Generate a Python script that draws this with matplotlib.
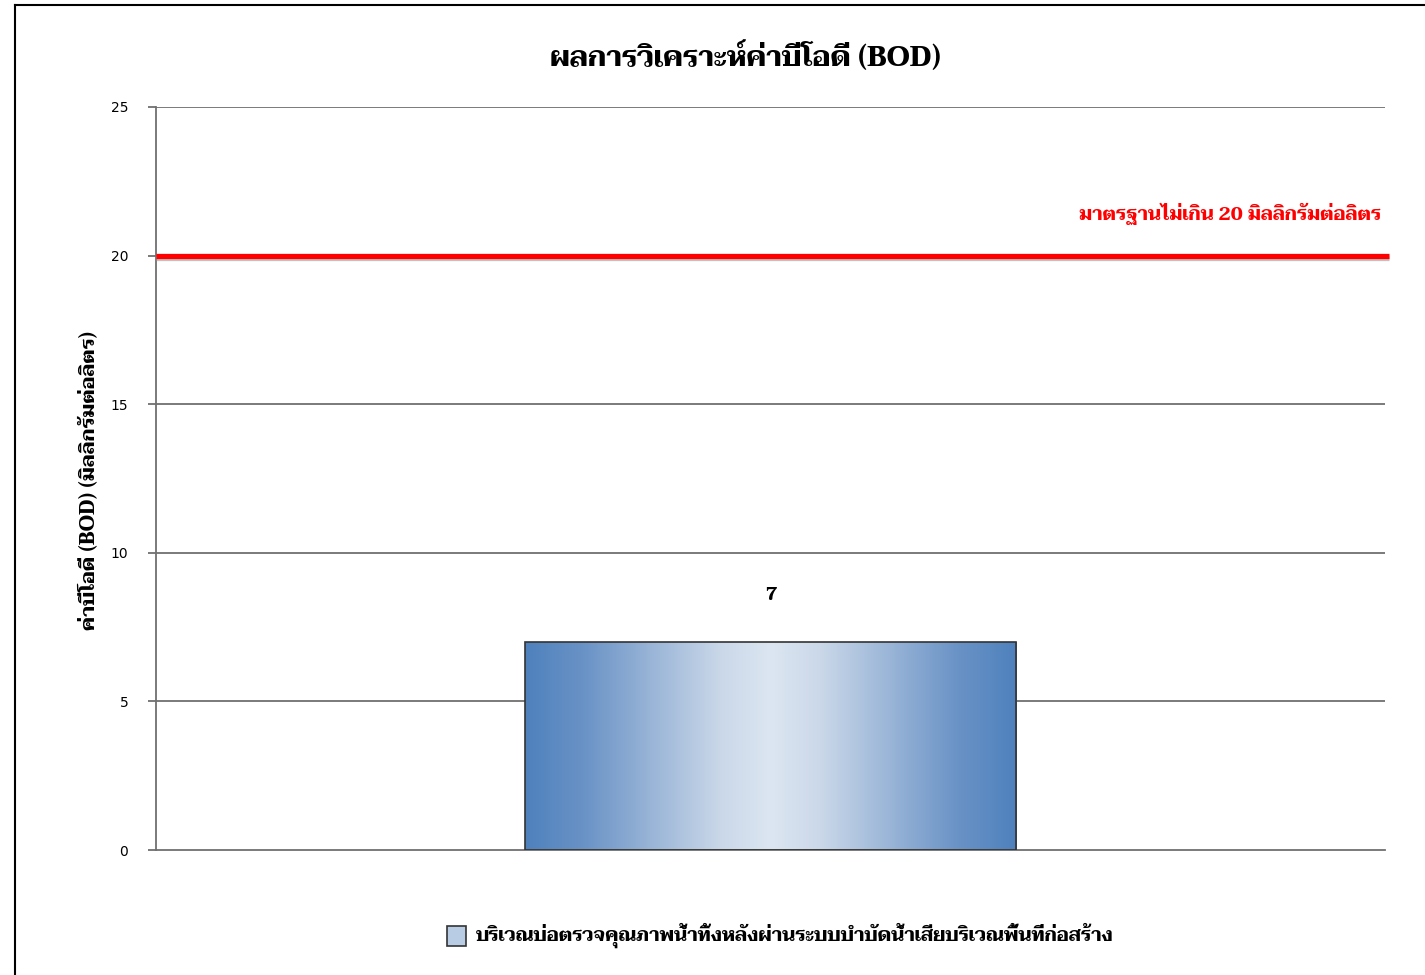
import numpy as np
import matplotlib
matplotlib.use('Agg')
import matplotlib.pyplot as plt
from matplotlib.lines import Line2D
import matplotlib.patheffects as pe
from matplotlib.colors import LinearSegmentedColormap

# data
categories = ['บริเวณบ่อตรวจคุณภาพน้ำทิ้งหลังผ่านระบบบำบัดน้ำเสียบริเวณพื้นที่ก่อสร้าง']
bod_values = [7]
standard_limit = 20
y_ticks = [0, 5, 10, 15, 20, 25]

title = 'ผลการวิเคราะห์ค่าบีโอดี (BOD)'
ylabel = 'ค่าบีโอดี (BOD) (มิลลิกรัมต่อลิตร)'
limit_label = 'มาตรฐานไม่เกิน 20 มิลลิกรัมต่อลิตร'

thai = ['Taviraj', 'DejaVu Serif']
grad = LinearSegmentedColormap.from_list(
    'bar', [(0, '#4F81BD'), (0.12, '#6A93C6'), (0.4, '#CBD8E9'), (0.5, '#DCE6F2'),
            (0.6, '#CBD8E9'), (0.88, '#6A93C6'), (1, '#4F81BD')])

fig = plt.figure(figsize=(14.25, 9.75), dpi=100)
ax = fig.add_axes([156 / 1425, 1 - 850 / 975, (1385 - 156) / 1425, (850 - 107) / 975])

x = np.arange(len(categories))

# grid
for t in y_ticks[1:]:
    ax.axhline(t, color='#707070', lw=1.3, zorder=1)

bars = ax.bar(x, bod_values, width=0.4, color='none', edgecolor='#333333', lw=1.2, zorder=3)
for b in bars:
    x0, y0 = b.get_x(), b.get_y()
    img = ax.imshow(np.linspace(0, 1, 256).reshape(1, -1), cmap=grad, aspect='auto',
                    extent=(x0, x0 + b.get_width(), y0, y0 + b.get_height()), zorder=2)
    img.set_clip_path(b)
    ax.text(b.get_x() + b.get_width() / 2, b.get_height() + 1.55, str(bod_values[0]),
            ha='center', va='center', fontsize=13, family=thai, weight='bold')
ax.set_xlim(-0.5, 0.5)
ax.set_ylim(0, 25)

# standard limit line
ax.plot([-0.5, 0.503], [standard_limit, standard_limit], color='red', lw=3.8, zorder=4,
        clip_on=False, solid_capstyle='butt',
        path_effects=[pe.SimpleLineShadow(offset=(0, -2), shadow_color='#999999', alpha=0.6), pe.Normal()])
ax.text(0.497, standard_limit + 1.4, limit_label, color='red', ha='right', va='center',
        fontsize=13.5, family=thai, weight='bold')

ax.set_yticks(y_ticks)
ax.set_yticklabels([str(t) for t in y_ticks], fontsize=10, family='DejaVu Sans')
ax.tick_params(axis='y', length=6, color='#707070', width=1.3, pad=14)
ax.set_xticks([])
for s in ['top', 'right']:
    ax.spines[s].set_visible(False)
for s in ['left', 'bottom']:
    ax.spines[s].set_color('#707070')
    ax.spines[s].set_linewidth(1.3)

fig.text(745 / 1425, 1 - 57 / 975, title, ha='center', va='center', fontsize=20.4,
         family=thai, weight='bold')
fig.text(88 / 1425, 1 - 480 / 975, ylabel, ha='center', va='center', rotation=90,
         fontsize=14.4, family=thai, weight='bold')

# legend
fig.patches.append(plt.Rectangle((447 / 1425, 1 - 946 / 975), 19 / 1425, 20 / 975,
                                 transform=fig.transFigure, facecolor='#B8CCE4',
                                 edgecolor='#333333', lw=1.2))
fig.text(476 / 1425, 1 - 935 / 975, categories[0], ha='left', va='center', fontsize=13.6,
         family=thai, weight='bold')

# outer border
fig.add_artist(Line2D([15 / 1425, 15 / 1425], [0, 1 - 5 / 975], color='black', lw=1.5,
                      transform=fig.transFigure))
fig.add_artist(Line2D([15 / 1425, 1], [1 - 5 / 975, 1 - 5 / 975], color='black', lw=1.5,
                      transform=fig.transFigure))

fig.savefig('out.png', dpi=100)
